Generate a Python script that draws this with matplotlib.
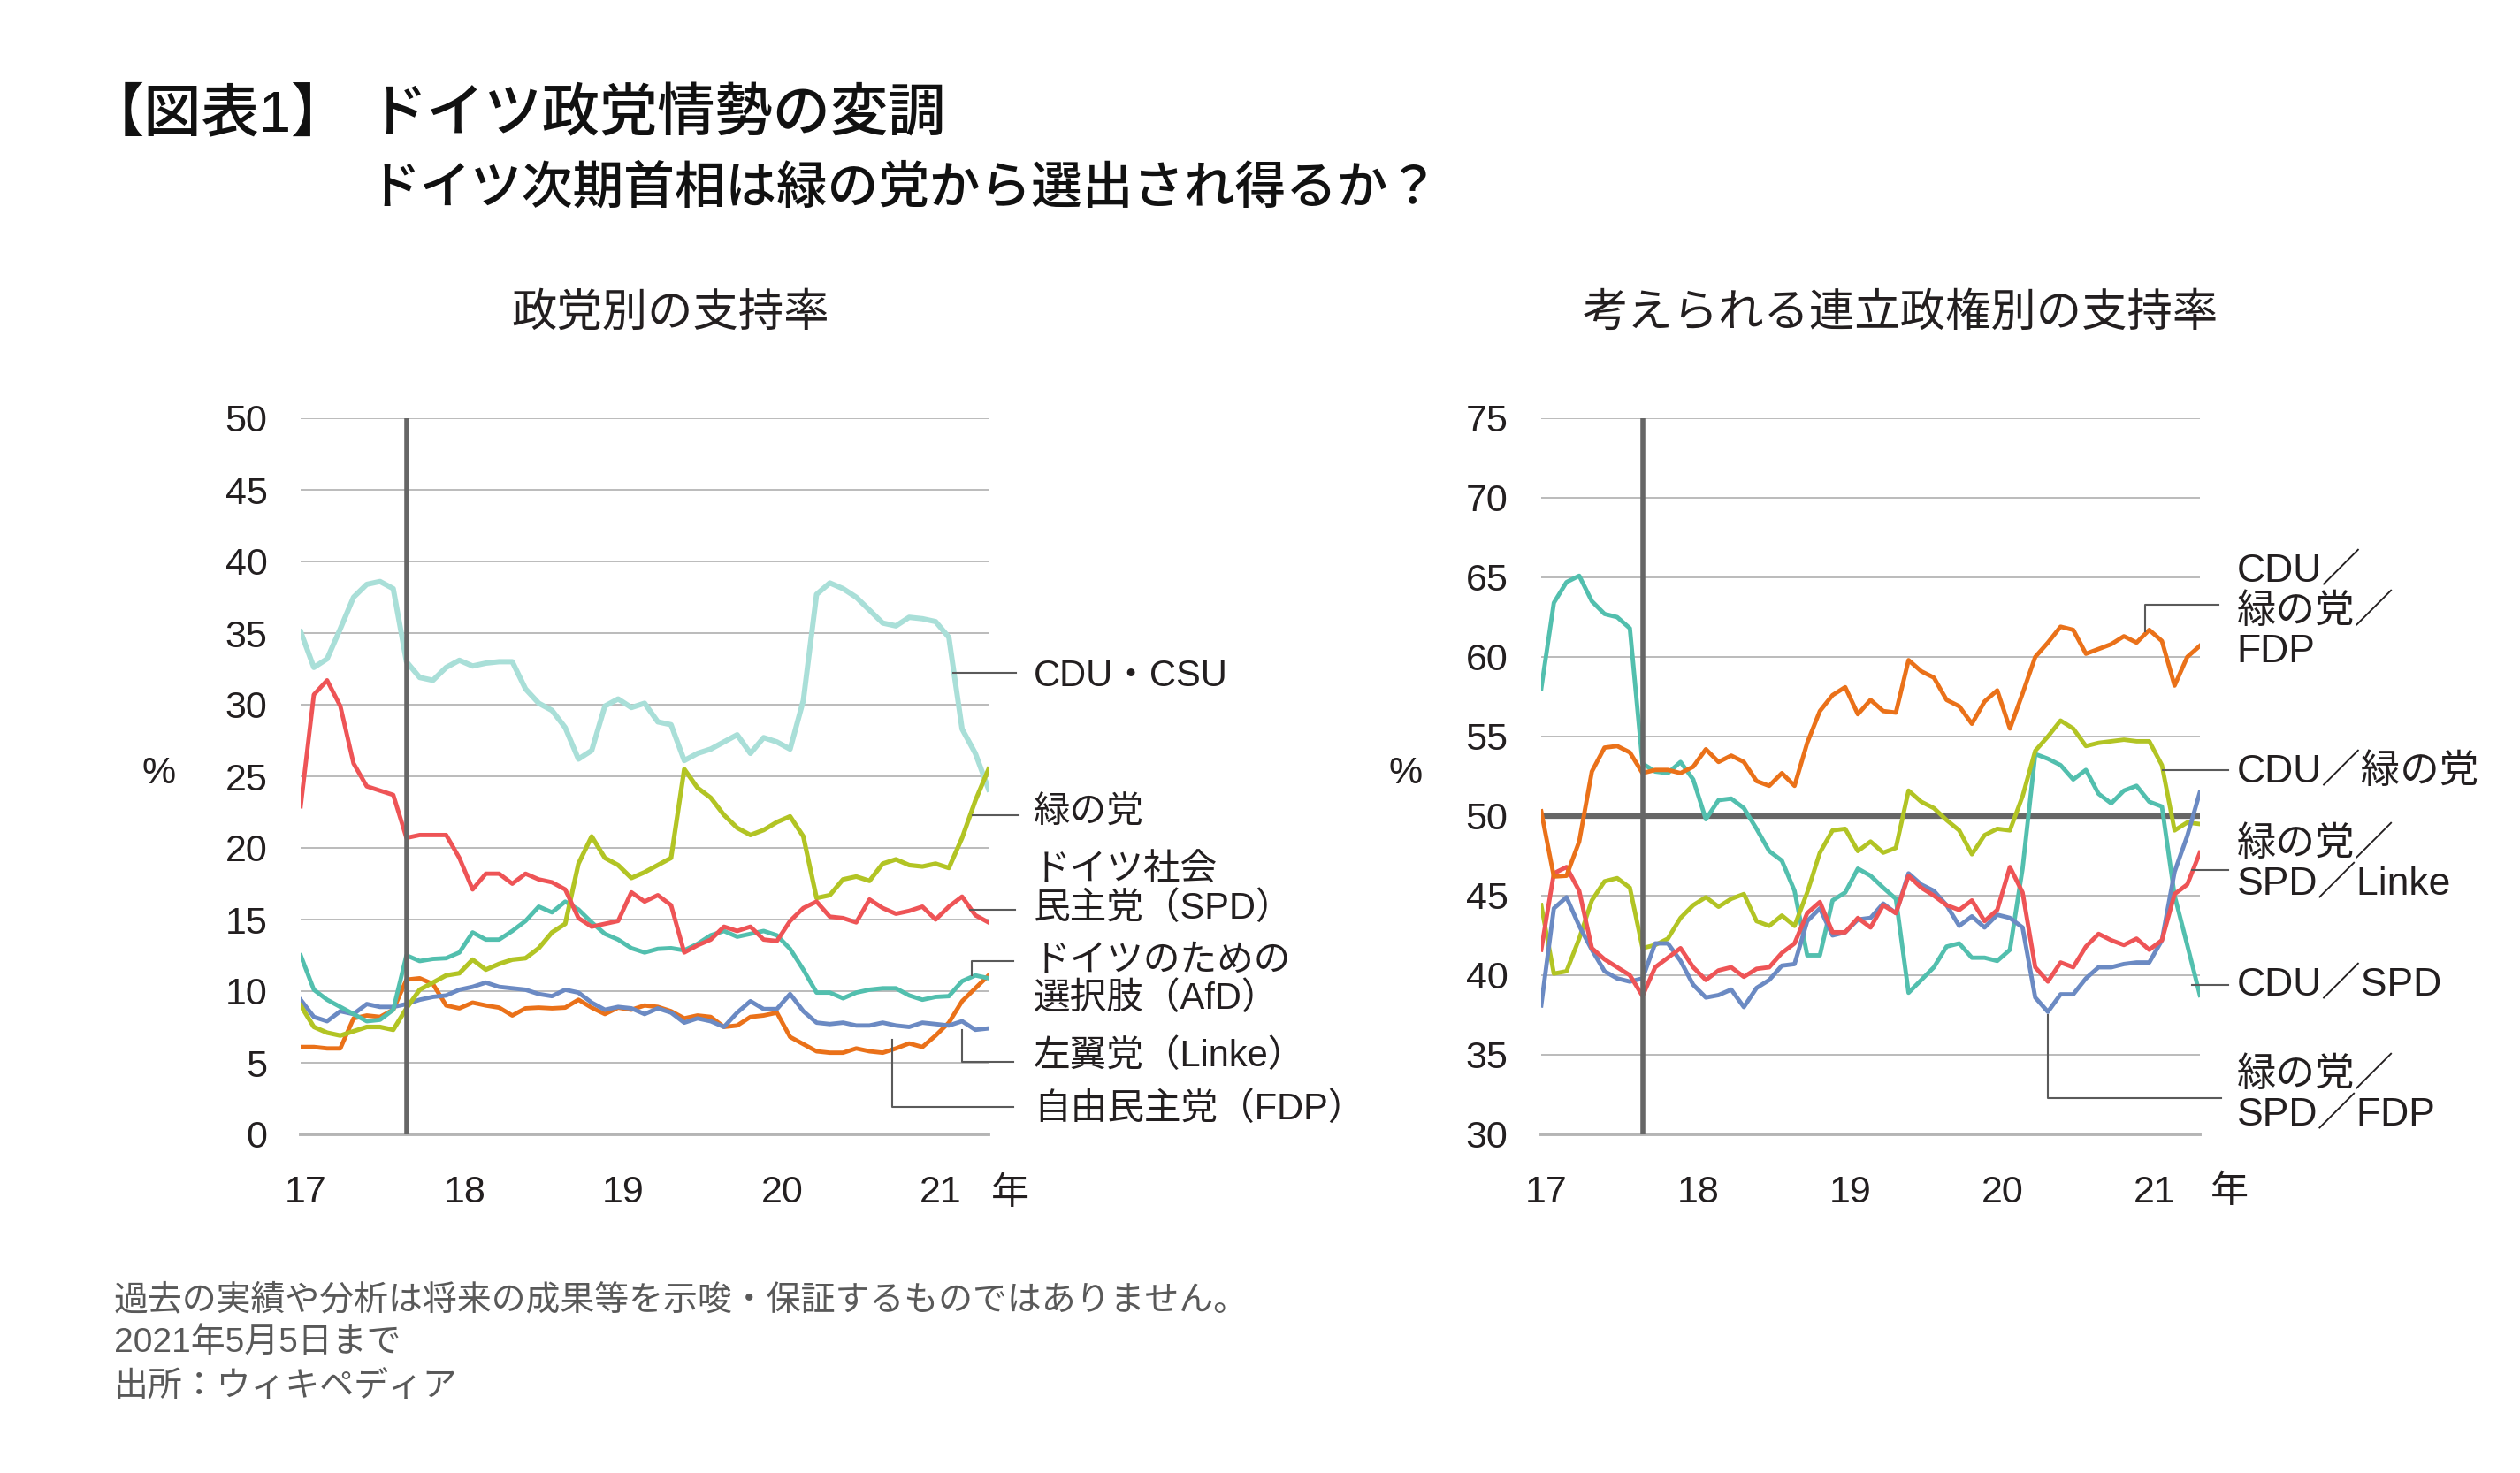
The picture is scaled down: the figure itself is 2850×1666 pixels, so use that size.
import matplotlib
matplotlib.use('Agg')
import matplotlib.pyplot as plt
import matplotlib.transforms as mtransforms
import numpy as np

plt.rcParams['font.family'] = ['Liberation Sans', 'Noto Sans CJK JP']

# monthly, Jan 2017 .. May 2021
years = ['17', '18', '19', '20', '21']

# left chart: party support (%)
cdu = [35.1, 32.6, 33.2, 35.3, 37.5, 38.4, 38.6, 38.1, 33.0, 31.9, 31.7, 32.6, 33.1, 32.7, 32.9, 33.0, 33.0, 31.1,
       30.1, 29.6, 28.4, 26.2, 26.8, 29.9, 30.4, 29.8, 30.1, 28.8, 28.6, 26.1, 26.6, 26.9, 27.4, 27.9, 26.6, 27.7,
       27.4, 26.9, 30.3, 37.7, 38.5, 38.1, 37.5, 36.6, 35.7, 35.5, 36.1, 36.0, 35.8, 34.7, 28.3, 26.6, 24.1]
greens = [9.0, 7.5, 7.1, 6.9, 7.2, 7.5, 7.5, 7.3, 8.8, 10.1, 10.6, 11.1, 11.25, 12.2, 11.5, 11.9, 12.2, 12.3, 13.0,
          14.1, 14.7, 18.9, 20.8, 19.3, 18.8, 17.9, 18.3, 18.8, 19.3, 25.5, 24.2, 23.5, 22.3, 21.4, 20.9, 21.25, 21.8,
          22.2, 20.8, 16.5, 16.7, 17.8, 18.0, 17.7, 18.9, 19.2, 18.8, 18.7, 18.9, 18.6, 20.7, 23.3, 25.5]
spd = [22.9, 30.7, 31.7, 29.9, 25.9, 24.3, 24.0, 23.7, 20.7, 20.9, 20.9, 20.9, 19.3, 17.1, 18.2, 18.2, 17.5, 18.2,
       17.8, 17.6, 17.1, 15.1, 14.5, 14.7, 14.9, 16.9, 16.25, 16.7, 16.0, 12.7, 13.2, 13.6, 14.5, 14.2, 14.5, 13.6,
       13.5, 14.9, 15.8, 16.25, 15.2, 15.1, 14.8, 16.4, 15.8, 15.4, 15.6, 15.9, 15.0, 15.9, 16.6, 15.3, 14.8]
afd = [12.5, 10.1, 9.4, 8.9, 8.4, 7.9, 8.0, 8.7, 12.5, 12.1, 12.25, 12.3, 12.7, 14.1, 13.6, 13.6, 14.2, 14.9, 15.9,
       15.5, 16.25, 15.7, 14.8, 14.0, 13.6, 13.0, 12.7, 12.95, 13.0, 12.85, 13.3, 13.9, 14.2, 13.8, 14.0, 14.2, 13.9,
       12.95, 11.5, 9.9, 9.9, 9.5, 9.9, 10.1, 10.2, 10.2, 9.7, 9.4, 9.6, 9.65, 10.7, 11.1, 10.9]
linke = [9.4, 8.2, 7.9, 8.6, 8.4, 9.1, 8.9, 8.9, 9.1, 9.4, 9.6, 9.7, 10.1, 10.3, 10.6, 10.3, 10.2, 10.1, 9.8, 9.65,
         10.1, 9.9, 9.2, 8.7, 8.9, 8.8, 8.4, 8.8, 8.5, 7.8, 8.1, 7.9, 7.5, 8.5, 9.3, 8.75, 8.75, 9.8, 8.6, 7.8, 7.7,
         7.8, 7.6, 7.6, 7.8, 7.6, 7.5, 7.8, 7.7, 7.6, 7.9, 7.3, 7.4]
fdp = [6.1, 6.1, 6.0, 6.0, 8.1, 8.3, 8.2, 8.7, 10.8, 10.9, 10.5, 9.0, 8.8, 9.2, 9.0, 8.85, 8.3, 8.8, 8.85, 8.8, 8.85,
       9.4, 8.85, 8.4, 8.85, 8.7, 9.0, 8.9, 8.6, 8.1, 8.3, 8.2, 7.5, 7.6, 8.2, 8.3, 8.5, 6.8, 6.3, 5.8, 5.7, 5.7, 6.0,
       5.8, 5.7, 6.0, 6.35, 6.1, 6.9, 7.8, 9.3, 10.2, 11.1]

# right chart: possible coalitions (%)
cdu_grn_fdp = [50.3, 46.2, 46.25, 48.4, 52.8, 54.3, 54.4, 54.0, 52.7, 52.9, 52.9, 52.7, 53.1, 54.2, 53.4, 53.8, 53.4,
               52.2, 51.9, 52.7, 51.9, 54.6, 56.6, 57.6, 58.1, 56.4, 57.3, 56.6, 56.5, 59.8, 59.1, 58.7, 57.3, 56.9,
               55.8, 57.2, 57.9, 55.5, 57.7, 60.0, 60.9, 61.9, 61.7, 60.2, 60.5, 60.8, 61.3, 60.9, 61.7, 61.0, 58.2,
               60.0, 60.7]
cdu_grn = [44.4, 40.1, 40.25, 42.3, 44.7, 45.9, 46.1, 45.5, 41.7, 41.9, 42.3, 43.6, 44.4, 44.9, 44.3, 44.8, 45.1, 43.4,
           43.1, 43.75, 43.1, 45.2, 47.7, 49.1, 49.2, 47.8, 48.4, 47.7, 48.0, 51.6, 50.9, 50.5, 49.75, 49.1, 47.6, 48.8,
           49.2, 49.1, 51.25, 54.1, 55.0, 56.0, 55.5, 54.4, 54.6, 54.7, 54.8, 54.7, 54.7, 53.2, 49.1, 49.6, 49.5]
grn_spd_linke = [41.6, 46.4, 46.8, 45.3, 41.7, 41.0, 40.5, 40.0, 38.7, 40.5, 41.1, 41.7, 40.5, 39.7, 40.3, 40.5, 39.9,
                 40.4, 40.5, 41.4, 42.0, 43.9, 44.6, 42.7, 42.7, 43.6, 43.0, 44.4, 43.9, 46.25, 45.5, 45.0, 44.4, 44.1,
                 44.7, 43.4, 44.1, 46.8, 45.2, 40.5, 39.6, 40.8, 40.5, 41.8, 42.6, 42.2, 41.9, 42.3, 41.6, 42.2, 45.1,
                 45.7, 47.7]
cdu_spd = [58.0, 63.4, 64.7, 65.1, 63.5, 62.7, 62.5, 61.8, 53.3, 52.8, 52.7, 53.4, 52.3, 49.8, 51.0, 51.1, 50.5, 49.2,
           47.8, 47.2, 45.3, 41.25, 41.25, 44.7, 45.2, 46.7, 46.25, 45.5, 44.8, 38.9, 39.7, 40.5, 41.8, 42.0, 41.1,
           41.1, 40.9, 41.6, 46.7, 53.9, 53.6, 53.2, 52.3, 52.9, 51.4, 50.8, 51.6, 51.9, 50.9, 50.6, 45.0, 41.9, 38.75]
grn_spd_fdp = [38.1, 44.2, 44.9, 43.1, 41.6, 40.25, 39.8, 39.6, 39.8, 42.0, 42.0, 40.9, 39.4, 38.6, 38.75, 39.1, 38.0,
               39.2, 39.7, 40.6, 40.7, 43.4, 44.2, 42.5, 42.7, 43.5, 43.6, 44.5, 43.9, 46.4, 45.7, 45.3, 44.4, 43.1,
               43.7, 43.0, 43.8, 43.6, 43.0, 38.6, 37.7, 38.8, 38.8, 39.8, 40.5, 40.5, 40.7, 40.8, 40.8, 42.2, 46.5,
               48.75, 51.5]

election_idx = 8  # Sep 2017

C_LIGHT = '#a9dfd8'
C_GREEN = '#b2c424'
C_RED = '#ee5456'
C_TEAL = '#52bfae'
C_BLUE = '#6b8ac3'
C_ORANGE = '#ea7119'
C_DARK = '#666666'
C_GRID = '#b5b5b5'
C_TEXT = '#231f20'
C_CALL = '#5a5a5a'

W, H = 2850, 1666
fig = plt.figure(figsize=(W / 100, H / 100), dpi=100)


def px_axes(x0, x1, y0, y1):
    return fig.add_axes([x0 / W, 1 - y1 / H, (x1 - x0) / W, (y1 - y0) / H])


def style(ax, ymin, ymax):
    x = np.arange(len(cdu))
    ax.set_xlim(0, len(x) - 1)
    ax.set_ylim(ymin, ymax)
    ax.set_yticks(np.arange(ymin, ymax + 1, 5))
    ax.set_xticks([0, 12, 24, 36, 48])
    ax.set_xticklabels(years)
    ax.tick_params(axis='both', length=0, labelsize=31, colors=C_TEXT)
    ax.tick_params(axis='y', pad=27)
    ax.tick_params(axis='x', pad=33)
    shift = mtransforms.ScaledTranslation(6 / 100, 0, fig.dpi_scale_trans)
    for lab in ax.get_xticklabels():
        lab.set_transform(lab.get_transform() + shift)
    ax.yaxis.grid(True, color=C_GRID, lw=1.3)
    ax.set_axisbelow(True)
    for s in ['left', 'right', 'top']:
        ax.spines[s].set_visible(False)
    ax.spines['bottom'].set_color(C_GRID)
    ax.spines['bottom'].set_linewidth(2.8)
    ax.axvline(election_idx, color=C_DARK, lw=4, zorder=5)
    return x


def callout(ax, pts, tx, ty, label, fs=30, ls=1.1):
    xs, ys = zip(*pts)
    ax.plot(xs, ys, color=C_CALL, lw=1.5, clip_on=False, zorder=6)
    ax.text(tx, ty, label, fontsize=fs, color=C_TEXT, ha='left', va='center',
            linespacing=ls, clip_on=False)


# ---- left chart
ax1 = px_axes(340, 1118, 473, 1283)
x = style(ax1, 0, 50)
ax1.plot(x, cdu, color=C_LIGHT, lw=4.3, zorder=3)
ax1.plot(x, fdp, color=C_ORANGE, lw=3.5, zorder=3)
ax1.plot(x, linke, color=C_BLUE, lw=3.5, zorder=3)
ax1.plot(x, afd, color=C_TEAL, lw=3.5, zorder=3)
ax1.plot(x, greens, color=C_GREEN, lw=3.7, zorder=3)
ax1.plot(x, spd, color=C_RED, lw=3.5, zorder=3)
ax1.text(53.6, -4.2, '年', fontsize=31, color=C_TEXT, ha='center', va='center', clip_on=False)

callout(ax1, [(49.3, 32.2), (54.1, 32.2)], 55.4, 32.0, 'CDU・CSU')
callout(ax1, [(50.8, 22.3), (54.3, 22.3)], 55.4, 22.4, '緑の党')
callout(ax1, [(50.6, 15.7), (54.0, 15.7)], 55.4, 17.1, 'ドイツ社会\n民主党（SPD）')
callout(ax1, [(50.7, 11.1), (50.7, 12.1), (53.9, 12.1)], 55.4, 10.8, 'ドイツのための\n選択肢（AfD）')
callout(ax1, [(50.0, 7.3), (50.0, 5.06), (53.9, 5.06)], 55.4, 5.45, '左翼党（Linke）')
callout(ax1, [(44.7, 6.6), (44.7, 1.9), (53.9, 1.9)], 55.4, 1.75, '自由民主党（FDP）')

# ---- right chart
ax2 = px_axes(1743, 2488, 473, 1283)
x = style(ax2, 30, 75)
ax2.axhline(50, color=C_DARK, lw=4.5, zorder=2)
ax2.plot(x, cdu_spd, color=C_TEAL, lw=3.5, zorder=3)
ax2.plot(x, cdu_grn, color=C_GREEN, lw=3.5, zorder=3)
ax2.plot(x, grn_spd_fdp, color=C_BLUE, lw=3.5, zorder=3)
ax2.plot(x, grn_spd_linke, color=C_RED, lw=3.5, zorder=3)
ax2.plot(x, cdu_grn_fdp, color=C_ORANGE, lw=3.5, zorder=3)
ax2.text(54.3, 26.35, '年', fontsize=31, color=C_TEXT, ha='center', va='center', clip_on=False)

callout(ax2, [(47.7, 61.6), (47.7, 63.3), (53.5, 63.3)], 54.9, 62.85, 'CDU／\n緑の党／\nFDP', fs=32, ls=1.12)
callout(ax2, [(49.1, 52.9), (54.2, 52.9)], 54.9, 52.75, 'CDU／緑の党', fs=32)
callout(ax2, [(51.4, 46.6), (54.2, 46.6)], 54.9, 46.95, '緑の党／\nSPD／Linke', fs=32, ls=1.12)
callout(ax2, [(51.4, 39.4), (54.2, 39.4)], 54.9, 39.35, 'CDU／SPD', fs=32)
callout(ax2, [(40.0, 37.5), (40.0, 32.3), (53.7, 32.3)], 54.9, 32.45, '緑の党／\nSPD／FDP', fs=32, ls=1.12)

# ---- texts
fig.text(180 / W, 1 - 875 / H, '%', fontsize=31, color=C_TEXT, ha='center', va='center')
fig.text(1590 / W, 1 - 875 / H, '%', fontsize=31, color=C_TEXT, ha='center', va='center')
fig.text(758 / W, 1 - 355 / H, '政党別の支持率', fontsize=37, color=C_TEXT, ha='center', va='center')
fig.text(2149 / W, 1 - 355 / H, '考えられる連立政権別の支持率', fontsize=37, color=C_TEXT, ha='center', va='center')

fig.text(98 / W, 1 - 131 / H, '【図表1】', fontsize=47, color='#111111', ha='left', va='center',
         fontweight='medium')
fig.text(417 / W, 1 - 131 / H, 'ドイツ政党情勢の変調', fontsize=47, color='#111111', ha='left', va='center',
         fontweight='medium')
fig.text(417 / W, 1 - 214 / H, 'ドイツ次期首相は緑の党から選出され得るか？', fontsize=41.5, color='#111111',
         ha='left', va='center', fontweight='medium')

notes = ['過去の実績や分析は将来の成果等を示唆・保証するものではありません。',
         '2021年5月5日まで',
         '出所：ウィキペディア']
for i, t in enumerate(notes):
    fig.text(129 / W, 1 - (1471 + 49 * i) / H, t, fontsize=28, color='#595959', ha='left', va='center')

fig.savefig('out.png', dpi=100, facecolor='white')
